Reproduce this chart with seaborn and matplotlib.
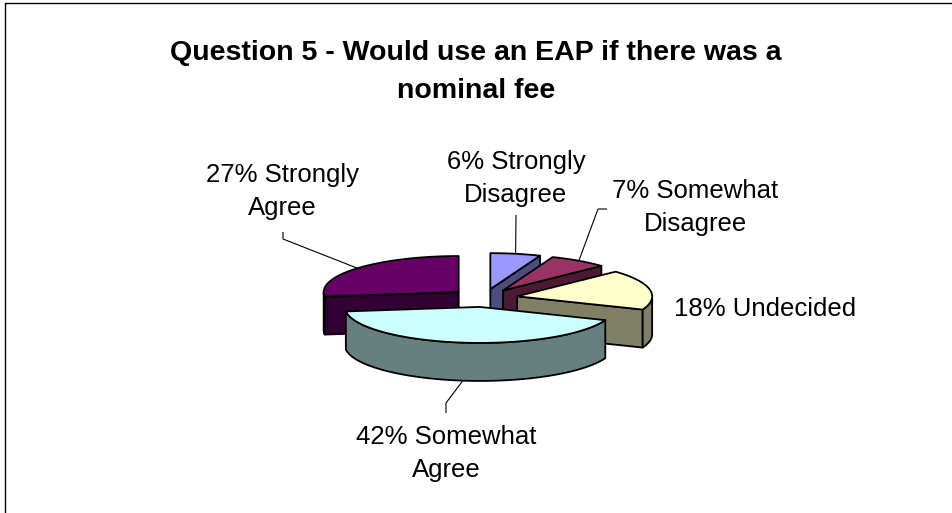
import numpy as np
import matplotlib
matplotlib.use("Agg")
import matplotlib.pyplot as plt
import seaborn as sns
from matplotlib.patches import Polygon, Rectangle
from matplotlib.colors import to_rgb

# Survey answers, in pie order (clockwise from 12 o'clock)
categories = ["Strongly Disagree", "Somewhat Disagree", "Undecided",
              "Somewhat Agree", "Strongly Agree"]
shares = [6, 7, 18, 42, 27]
labels = ["6% Strongly\nDisagree", "7% Somewhat\nDisagree", "18% Undecided",
          "42% Somewhat\nAgree", "27% Strongly\nAgree"]
top_colors = ["#9999FF", "#993366", "#FFFFCC", "#CCFFFF", "#660066"]
title = "Question 5 - Would use an EAP if there was a\nnominal fee"

sns.set_theme(style="white")
plt.rcParams["font.family"] = ["Liberation Sans", "DejaVu Sans"]

W, H = 952, 513
fig = plt.figure(figsize=(W / 100, H / 100), dpi=100)
ax = fig.add_axes([0, 0, 1, 1])
ax.set_xlim(0, W)
ax.set_ylim(H, 0)
ax.axis("off")

# tilted pie layout (pixels)
cx, cy = 484, 298
rx, ry = 135, 36
depth = 38
explode = 0.25
edge_kw = dict(edgecolor="black", linewidth=1.3, joinstyle="round")


def point(theta, r, ox, oy, dz=0.0):
    t = np.radians(theta)
    return ox + rx * r * np.sin(t), oy - ry * r * np.cos(t) + dz


def arc(a, b, ox, oy, dz=0.0, n=200):
    th = np.linspace(a, b, n)
    xs, ys = point(th, 1.0, ox, oy, dz)
    return list(zip(xs, ys))


total = float(sum(shares))
bounds = np.concatenate([[0.0], np.cumsum(shares)]) / total * 360.0

slices = []
for i in range(len(shares)):
    a, b = bounds[i], bounds[i + 1]
    mid = (a + b) / 2
    ox, oy = point(mid, explode, cx, cy)
    slices.append((i, a, b, mid, ox, oy))

# paint back slices first
for i, a, b, mid, ox, oy in sorted(slices, key=lambda s: s[5]):
    top = top_colors[i]
    side = tuple(0.5 * c for c in to_rgb(top))

    walls = []
    if np.sin(np.radians(a)) < -1e-9:
        walls.append(a)
    if np.sin(np.radians(b)) > 1e-9:
        walls.append(b)
    for th in walls:
        p_top = point(th, 1.0, ox, oy)
        p_bot = point(th, 1.0, ox, oy, depth)
        poly = [(ox, oy), p_top, p_bot, (ox, oy + depth)]
        ax.add_patch(Polygon(poly, closed=True, facecolor=side, **edge_kw))

    lo, hi = max(a, 90.0), min(b, 270.0)
    if hi > lo:
        rim = arc(lo, hi, ox, oy) + arc(hi, lo, ox, oy, depth)
        ax.add_patch(Polygon(rim, closed=True, facecolor=side, **edge_kw))

    face = [(ox, oy)] + arc(a, b, ox, oy)
    ax.add_patch(Polygon(face, closed=True, facecolor=top, **edge_kw))

# data labels with leader lines (y = baseline of the last line)
label_xy = [(516, 202), (695, 231), (765, 316), (446, 477), (282, 215)]
leader_elbows = [[(516, 215)], [(598, 209), (607, 209)], None,
                 [(446, 403), (446, 413)], [(283, 239), (283, 232)]]

for i, a, b, mid, ox, oy in slices:
    elbows = leader_elbows[i]
    if elbows:
        dz = depth if np.cos(np.radians(mid)) < 0 else 0.0
        start = point(mid, 1.0, ox, oy, dz)
        pts = [start] + elbows
        ax.plot([p[0] for p in pts], [p[1] for p in pts],
                color="black", linewidth=0.8, solid_capstyle="butt")
    x, y = label_xy[i]
    ax.text(x, y, labels[i], ha="center", va="baseline", fontsize=18.5,
            linespacing=1.48, color="black")

ax.text(476, 98, title, ha="center", va="baseline", fontsize=20.5,
        fontweight="bold", linespacing=1.62, color="black")

ax.add_patch(Rectangle((5, 3), W + 20, H + 20, fill=False,
                       edgecolor="black", linewidth=1.0))

fig.savefig("out.png", dpi=100, facecolor="white")
